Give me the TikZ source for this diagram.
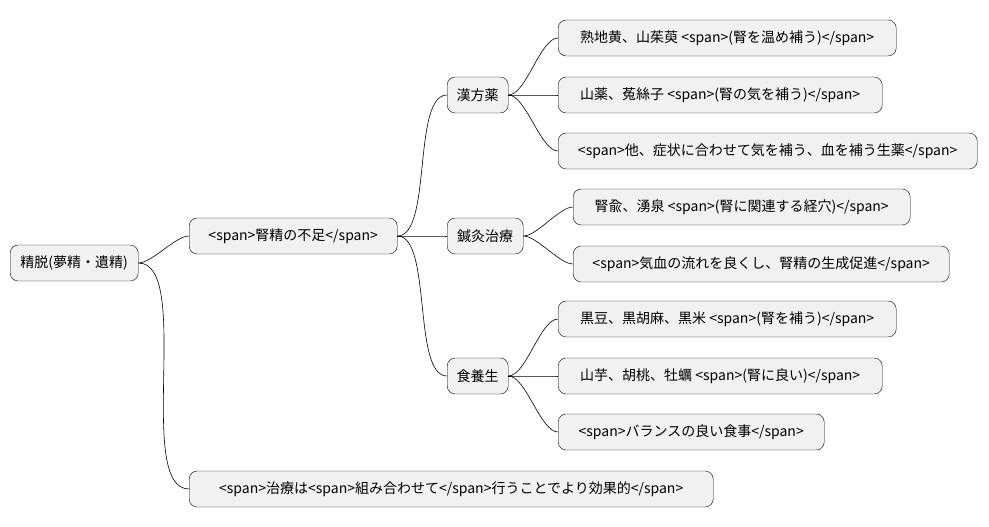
\documentclass[tikz,border=0pt]{standalone}
\usepackage{fontspec}
\setmainfont{Noto Sans CJK JP}
\definecolor{boxfill}{HTML}{F1F1F1}
\tikzset{
  topic/.style={draw=black,fill=boxfill,rounded corners=8pt,anchor=west,
    minimum height=36pt,inner xsep=6pt,font=\fontsize{14}{16}\selectfont},
  branch/.style={draw=black,line width=0.6pt}
}
\begin{document}
\begin{tikzpicture}[x=1pt,y=-1pt]
    \useasboundingbox (0,0) rectangle (989,527);
    \node[topic,minimum width=128pt] (root)   at (10,263)  {精脱(夢精・遺精)};
    \node[topic,minimum width=208pt] (lack)   at (189,236) {<span>腎精の不足</span>};
    \node[topic,minimum width=61pt]  (kanpo)  at (447,95)  {漢方薬};
    \node[topic,minimum width=338pt] (herbA)  at (558,38)  {熟地黄、山茱萸 <span>(腎を温め補う)</span>};
    \node[topic,minimum width=324pt] (herbB)  at (558,95)  {山薬、菟絲子 <span>(腎の気を補う)</span>};
    \node[topic,minimum width=419pt] (herbC)  at (558,151) {<span>他、症状に合わせて気を補う、血を補う生薬</span>};
    \node[topic,minimum width=76pt]  (shin)   at (447,236) {鍼灸治療};
    \node[topic,minimum width=337pt] (ptA)    at (573,207) {腎兪、湧泉 <span>(腎に関連する経穴)</span>};
    \node[topic,minimum width=376pt] (ptB)    at (573,264) {<span>気血の流れを良くし、腎精の生成促進</span>};
    \node[topic,minimum width=61pt]  (food)   at (447,376) {食養生};
    \node[topic,minimum width=338pt] (foodA)  at (558,319) {黒豆、黒胡麻、黒米 <span>(腎を補う)</span>};
    \node[topic,minimum width=324pt] (foodB)  at (558,376) {山芋、胡桃、牡蠣 <span>(腎に良い)</span>};
    \node[topic,minimum width=266pt] (foodC)  at (558,432) {<span>バランスの良い食事</span>};
    \node[topic,minimum width=524pt] (combo)  at (189,489) {<span>治療は<span>組み合わせて</span>行うことでより効果的</span>};
    % connectors
    \foreach \a/\b in {root/lack,root/combo,lack/kanpo,lack/shin,lack/food,
        kanpo/herbA,kanpo/herbB,kanpo/herbC,shin/ptA,shin/ptB,
        food/foodA,food/foodB,food/foodC}
        \draw[branch] (\a.east) to[out=0,in=180,looseness=0.6] (\b.west);
\end{tikzpicture}
\end{document}
